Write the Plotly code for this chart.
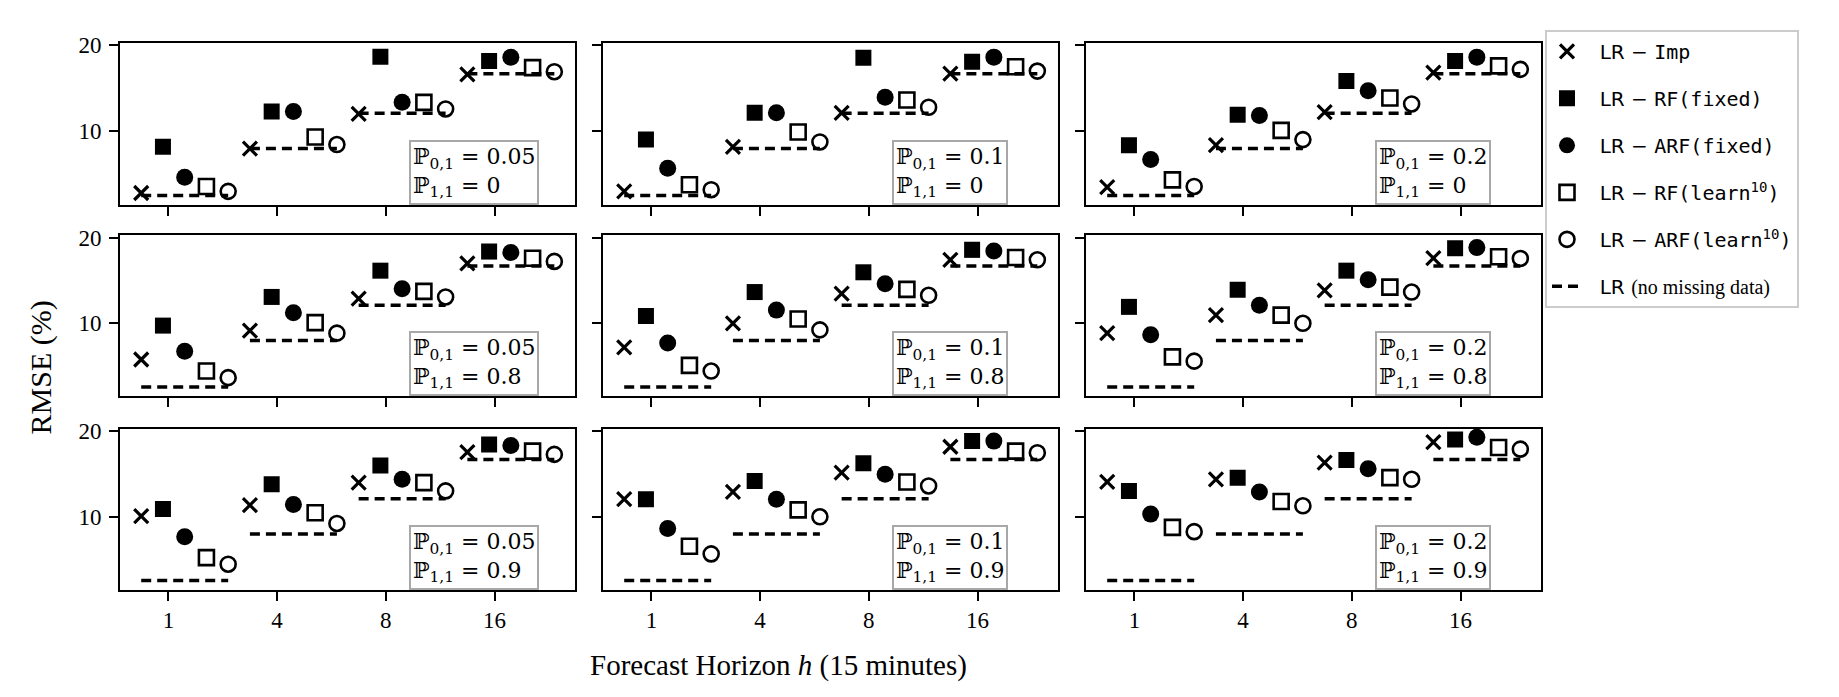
import plotly.graph_objects as go
from plotly.subplots import make_subplots

# ---------------- data ----------------
horizons = ["1", "4", "8", "16"]
p01_values = ["0.05", "0.1", "0.2"]   # columns
p11_values = ["0", "0.8", "0.9"]      # rows

baseline_lr = [2.55, 8.0, 12.1, 16.7]  # LR (no missing data)

# panels in row-major order (row = P11, col = P01)
lr_imp = [
    [2.84, 8.0, 12.03, 16.63],
    [3.03, 8.2, 12.15, 16.7],
    [3.52, 8.39, 12.22, 16.82],
    [5.77, 9.15, 12.88, 17.0],
    [7.19, 10.0, 13.46, 17.42],
    [8.85, 10.96, 13.85, 17.62],
    [10.08, 11.36, 13.99, 17.56],
    [12.05, 12.9, 15.16, 18.18],
    [14.07, 14.38, 16.32, 18.72],
]
lr_rf_fixed = [
    [8.2, 12.3, 18.66, 18.16],
    [9.04, 12.15, 18.54, 18.08],
    [8.39, 11.92, 15.86, 18.16],
    [9.73, 13.08, 16.15, 18.38],
    [10.85, 13.65, 15.96, 18.58],
    [11.92, 13.92, 16.15, 18.77],
    [10.9, 13.8, 16.0, 18.45],
    [12.05, 14.19, 16.24, 18.84],
    [13.02, 14.57, 16.63, 19.03],
]
lr_arf_fixed = [
    [4.67, 12.3, 13.37, 18.6],
    [5.71, 12.15, 13.95, 18.62],
    [6.74, 11.84, 14.71, 18.62],
    [6.73, 11.23, 14.04, 18.27],
    [7.69, 11.54, 14.62, 18.46],
    [8.65, 12.12, 15.08, 18.85],
    [7.67, 11.43, 14.38, 18.33],
    [8.64, 12.05, 14.96, 18.84],
    [10.31, 12.9, 15.62, 19.3],
]
lr_rf_learn = [
    [3.6, 9.35, 13.37, 17.4],
    [3.79, 9.92, 13.64, 17.5],
    [4.37, 10.11, 13.87, 17.6],
    [4.42, 10.08, 13.73, 17.6],
    [5.08, 10.5, 13.96, 17.69],
    [6.08, 10.96, 14.23, 17.77],
    [5.23, 10.47, 13.99, 17.67],
    [6.55, 10.81, 14.07, 17.67],
    [8.76, 11.78, 14.57, 18.1],
]
lr_arf_learn = [
    [3.03, 8.47, 12.6, 16.93],
    [3.22, 8.77, 12.8, 17.0],
    [3.6, 9.04, 13.18, 17.2],
    [3.65, 8.85, 13.08, 17.23],
    [4.42, 9.23, 13.27, 17.42],
    [5.58, 10.0, 13.65, 17.58],
    [4.46, 9.22, 13.02, 17.29],
    [5.66, 10.0, 13.6, 17.48],
    [8.26, 11.28, 14.38, 17.9],
]

# ---------------- figure ----------------
W, H = 1839, 697
fig = make_subplots(rows=3, cols=3)

col_px = [(112, 567), (595, 1050), (1078, 1533)]
row_px = [(26, 190), (221, 384), (417, 580)]

MONO = "font-family:'DejaVu Sans Mono'"
SERIF = "font-family:'Liberation Serif'"
PAD = "&nbsp;&nbsp;"
names = [
    f"{PAD}LR − <span style=\"{MONO}\">Imp</span>",
    f"{PAD}LR − <span style=\"{MONO}\">RF(fixed)</span>",
    f"{PAD}LR − <span style=\"{MONO}\">ARF(fixed)</span>",
    f"{PAD}LR − <span style=\"{MONO}\">RF(learn<sup>10</sup>)</span>",
    f"{PAD}LR − <span style=\"{MONO}\">ARF(learn<sup>10</sup>)</span>",
    f"{PAD}LR <span style=\"{SERIF}\">(no missing data)</span>",
]
series = [lr_imp, lr_rf_fixed, lr_arf_fixed, lr_rf_learn, lr_arf_learn]
offsets = [-0.25, -0.05, 0.15, 0.35, 0.55]
markers = [
    dict(symbol="x-thin", size=14, color="black", line=dict(width=3.2, color="black")),
    dict(symbol="square", size=16, color="black", line=dict(width=0)),
    dict(symbol="circle", size=17, color="black", line=dict(width=0)),
    dict(symbol="square-open", size=15, color="black", line=dict(width=2.6, color="black")),
    dict(symbol="circle-open", size=15, color="black", line=dict(width=2.6, color="black")),
]

for k in range(9):
    r, c = k // 3 + 1, k % 3 + 1
    first = k == 0
    # baseline dashed segments
    bx, by = [], []
    for i, v in enumerate(baseline_lr):
        bx += [i - 0.25, i + 0.55, None]
        by += [v, v, None]
    fig.add_trace(go.Scatter(
        x=bx, y=by, mode="lines", name=names[5], legendgroup="g6", legendrank=6,
        line=dict(color="black", width=3.5, dash="10px,6px"),
        showlegend=first, hoverinfo="skip"), row=r, col=c)
    for s, (vals, off, mk) in enumerate(zip(series, offsets, markers)):
        fig.add_trace(go.Scatter(
            x=[i + off for i in range(len(horizons))], y=vals[k], mode="markers",
            name=names[s], legendgroup=f"g{s+1}", legendrank=s + 1,
            marker=mk, showlegend=first), row=r, col=c)

for k in range(9):
    r, c = k // 3, k % 3
    xd = [col_px[c][0] / W, col_px[c][1] / W]
    yd = [1 - row_px[r][1] / H, 1 - row_px[r][0] / H]
    sfx = "" if k == 0 else str(k + 1)
    fig.layout["xaxis" + sfx].update(
        domain=xd, range=[-0.445, 3.74], tickmode="array", tickvals=[0, 1, 2, 3],
        ticktext=horizons, showticklabels=(r == 2), ticks="outside", ticklen=9,
        tickwidth=2, tickcolor="black", showline=True, linewidth=2, linecolor="black",
        mirror=True, showgrid=False, zeroline=False, ticklabelstandoff=0,
        tickfont=dict(family="Liberation Serif", size=23, color="black"))
    fig.layout["yaxis" + sfx].update(
        domain=yd, range=[1.5, 20.3], tickmode="array", tickvals=[10, 20],
        showticklabels=(c == 0), ticks="outside", ticklen=9, tickwidth=2,
        tickcolor="black", showline=True, linewidth=2, linecolor="black",
        mirror=True, showgrid=False, zeroline=False, ticklabelstandoff=3,
        tickfont=dict(family="Liberation Serif", size=23, color="black"))
    fig.add_annotation(
        xref=f"x{sfx} domain", yref=f"y{sfx} domain", x=0.635, y=0.0,
        xanchor="left", yanchor="bottom", align="left", showarrow=False,
        text=f"ℙ<sub>0,1</sub> = {p01_values[c]}<br>ℙ<sub>1,1</sub> = {p11_values[r]}",
        font=dict(family="DejaVu Serif", size=22, color="black"),
        bgcolor="white", bordercolor="#a8a8a8", borderwidth=2, borderpad=2)

fig.add_annotation(xref="paper", yref="paper", x=770 / W, y=1 - 657 / H,
                   xanchor="center", yanchor="middle",
                   text="Forecast Horizon <i>h</i> (15 minutes)", showarrow=False,
                   font=dict(family="Liberation Serif", size=29, color="black"))
fig.add_annotation(xref="paper", yref="paper", x=33 / W, y=1 - 355 / H,
                   xanchor="center", yanchor="middle",
                   text="RMSE (%)", textangle=-90, showarrow=False,
                   font=dict(family="Liberation Serif", size=30, color="black"))

fig.update_layout(
    width=W, height=H, margin=dict(l=0, r=0, t=0, b=0),
    paper_bgcolor="white", plot_bgcolor="white",
    legend=dict(x=1537 / W, y=1 - 13 / H, xanchor="left", yanchor="top",
                bgcolor="white", bordercolor="#cccccc", borderwidth=2,
                font=dict(family="DejaVu Sans", size=20, color="black"),
                tracegroupgap=18, itemwidth=30),
)

fig.write_html("out.html")
